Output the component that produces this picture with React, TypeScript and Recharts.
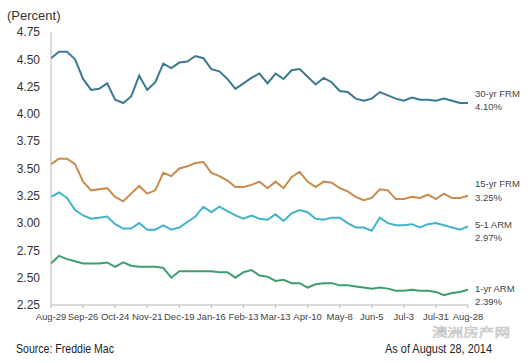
import React from 'react';
import { LineChart, Line, XAxis, YAxis } from 'recharts';

// weekly survey dates, Aug 29 2013 - Aug 28 2014
const weeks = [
  'Aug-29', 'Sep-5', 'Sep-12', 'Sep-19', 'Sep-26', 'Oct-3', 'Oct-10', 'Oct-17', 'Oct-24', 'Oct-31',
  'Nov-7', 'Nov-14', 'Nov-21', 'Nov-28', 'Dec-5', 'Dec-12', 'Dec-19', 'Dec-26', 'Jan-2', 'Jan-9',
  'Jan-16', 'Jan-23', 'Jan-30', 'Feb-6', 'Feb-13', 'Feb-20', 'Feb-27', 'Mar-6', 'Mar-13', 'Mar-20',
  'Mar-27', 'Apr-3', 'Apr-10', 'Apr-17', 'Apr-24', 'May-1', 'May-8', 'May-15', 'May-22', 'May-29',
  'Jun-5', 'Jun-12', 'Jun-19', 'Jun-26', 'Jul-3', 'Jul-10', 'Jul-17', 'Jul-24', 'Jul-31', 'Aug-7',
  'Aug-14', 'Aug-21', 'Aug-28',
];

const frm30 = [
  4.51, 4.57, 4.57, 4.50, 4.32, 4.22, 4.23, 4.28, 4.13, 4.10,
  4.16, 4.35, 4.22, 4.29, 4.46, 4.42, 4.47, 4.48, 4.53, 4.51,
  4.41, 4.39, 4.32, 4.23, 4.28, 4.33, 4.37, 4.28, 4.37, 4.32,
  4.40, 4.41, 4.34, 4.27, 4.33, 4.29, 4.21, 4.20, 4.14, 4.12,
  4.14, 4.20, 4.17, 4.14, 4.12, 4.15, 4.13, 4.13, 4.12, 4.14,
  4.12, 4.10, 4.10,
];

const frm15 = [
  3.54, 3.59, 3.59, 3.54, 3.38, 3.30, 3.31, 3.32, 3.24, 3.20,
  3.27, 3.34, 3.27, 3.30, 3.46, 3.43, 3.50, 3.52, 3.55, 3.56,
  3.46, 3.43, 3.39, 3.33, 3.33, 3.35, 3.38, 3.32, 3.38, 3.32,
  3.42, 3.47, 3.38, 3.33, 3.38, 3.37, 3.32, 3.29, 3.24, 3.21,
  3.23, 3.31, 3.30, 3.22, 3.22, 3.24, 3.23, 3.26, 3.22, 3.27,
  3.23, 3.23, 3.25,
];

const arm51 = [
  3.24, 3.28, 3.23, 3.12, 3.07, 3.04, 3.05, 3.06, 2.99, 2.95,
  2.95, 3.00, 2.94, 2.94, 2.98, 2.94, 2.96, 3.01, 3.06, 3.15,
  3.10, 3.15, 3.11, 3.07, 3.04, 3.07, 3.04, 3.03, 3.08, 3.02,
  3.09, 3.12, 3.10, 3.04, 3.03, 3.05, 3.05, 3.00, 2.96, 2.96,
  2.93, 3.05, 3.00, 2.98, 2.98, 2.99, 2.96, 2.99, 3.00, 2.98,
  2.96, 2.94, 2.97,
];

const arm1 = [
  2.63, 2.70, 2.67, 2.65, 2.63, 2.63, 2.63, 2.64, 2.60, 2.64,
  2.61, 2.60, 2.60, 2.60, 2.59, 2.50, 2.56, 2.56, 2.56, 2.56,
  2.56, 2.55, 2.55, 2.50, 2.55, 2.57, 2.52, 2.51, 2.47, 2.48,
  2.45, 2.45, 2.41, 2.44, 2.45, 2.45, 2.43, 2.43, 2.42, 2.41,
  2.40, 2.41, 2.40, 2.38, 2.38, 2.39, 2.38, 2.38, 2.37, 2.34,
  2.36, 2.37, 2.39,
];

const yTicks = [2.25, 2.5, 2.75, 3.0, 3.25, 3.5, 3.75, 4.0, 4.25, 4.5, 4.75];

const data = weeks.map((w, i) => ({
  week: w,
  frm30: frm30[i],
  frm15: frm15[i],
  arm51: arm51[i],
  arm1: arm1[i],
}));

const last = weeks.length - 1;
const font = '"Liberation Sans", Arial, sans-serif';

// name + latest rate, drawn next to the final point of each line
const endLabel = (name: string, dy1: number, dy2: number) => (props: any) => {
  const { x, y, index, value } = props;
  if (index !== last) return <g key={index} />;
  return (
    <g key={index}>
      <text x={x + 7} y={y + dy1} fontSize={9.5} fill="#444" fontFamily={font}>{name}</text>
      <text x={x + 7} y={y + dy2} fontSize={9.5} fill="#444" fontFamily={font}>
        {Number(value).toFixed(2)}%
      </text>
    </g>
  );
};

const App: React.FC = () => (
  <div style={{ position: 'absolute', left: 0, top: 0, width: 528, height: 363, background: '#fff', fontFamily: font }}>
    <LineChart width={528} height={363} data={data} margin={{ top: 32, right: 60, left: 0, bottom: 28 }}>
      <XAxis
        dataKey="week"
        interval={3}
        height={30}
        axisLine={{ stroke: '#b5b5b5' }}
        tickLine={{ stroke: '#b5b5b5' }}
        tickSize={3}
        tickMargin={5}
        tick={{ fontSize: 9.5, fill: '#444', fontFamily: font }}
      />
      <YAxis
        domain={[2.25, 4.75]}
        ticks={yTicks}
        tickFormatter={(v: number) => v.toFixed(2)}
        width={51}
        axisLine={{ stroke: '#b5b5b5' }}
        tickLine={false}
        tickSize={0}
        tickMargin={11}
        tick={{ fontSize: 12, fill: '#333', fontFamily: font }}
      />
      <Line dataKey="frm30" stroke="#3b7893" strokeWidth={2} dot={false} isAnimationActive={false} label={endLabel('30-yr FRM', -6, 7)} />
      <Line dataKey="frm15" stroke="#c98a4d" strokeWidth={2} dot={false} isAnimationActive={false} label={endLabel('15-yr FRM', -9, 5)} />
      <Line dataKey="arm51" stroke="#40b4c8" strokeWidth={2} dot={false} isAnimationActive={false} label={endLabel('5-1 ARM', 2, 15)} />
      <Line dataKey="arm1" stroke="#3e9d6f" strokeWidth={2} dot={false} isAnimationActive={false} label={endLabel('1-yr ARM', 2, 15)} />
    </LineChart>
    <svg width={528} height={363} style={{ position: 'absolute', left: 0, top: 0, pointerEvents: 'none' }}>
      <text x={7} y={20} fontSize={13} fill="#333" fontFamily={font}>(Percent)</text>
      <text x={16} y={353} fontSize={12} fill="#222" fontFamily={font} textLength={98} lengthAdjust="spacingAndGlyphs">
        Source: Freddie Mac
      </text>
      {/* faint outlined watermark */}
      <text x={432} y={337} fontSize={12} fill="none" stroke="#c4c4c4" strokeWidth={0.6} fontFamily='"Noto Sans CJK SC", sans-serif'
        textLength={78} lengthAdjust="spacingAndGlyphs">
        澳洲房产网
      </text>
      <text x={385} y={353} fontSize={12} fill="#222" fontFamily={font} textLength={107} lengthAdjust="spacingAndGlyphs">
        As of August 28, 2014
      </text>
    </svg>
  </div>
);

export default App;
